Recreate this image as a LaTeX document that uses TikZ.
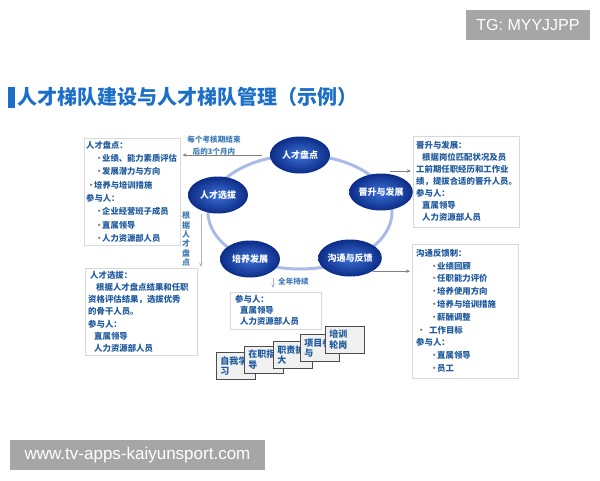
\documentclass[tikz,border=0pt]{standalone}
\usepackage{fontspec}
\newfontfamily\cjk{Noto Sans CJK SC}
\newfontfamily\wmfont{Liberation Sans}
\usetikzlibrary{shapes.geometric,arrows.meta}
\definecolor{titleblue}{HTML}{1C6FC8}
\definecolor{txtblue}{HTML}{1F5A9E}
\definecolor{lblblue}{HTML}{3C7AB5}
\definecolor{ringblue}{HTML}{A9BBE6}
\definecolor{lavline}{HTML}{A9B3DA}
\definecolor{nodein}{HTML}{3D72D6}
\definecolor{nodeout}{HTML}{0C2C88}
\definecolor{wmgray}{HTML}{A6A6A6}
\newcommand{\bul}{\makebox[7pt][l]{\textcolor{gray}{•}}}

\begin{document}
\begin{tikzpicture}[x=1pt,y=-1pt,
cycnode/.style = {ellipse, minimum width=60pt, minimum height=37pt, inner sep=0pt,
        shading=radial, inner color=nodein, outer color=nodeout,
        text=white, font=\cjk\bfseries\fontsize{9}{10}\selectfont},
infoframe/.style = {draw=gray!30, fill=white, line width=0.6pt, anchor=north west, inner sep=0pt},
infotext/.style = {anchor=north west, align=left, inner sep=0pt, text=txtblue},
lbl/.style = {inner sep=0pt, align=center, text=lblblue},
card/.style = {draw=gray!60!black, fill=gray!12, line width=0.6pt, anchor=north west,
        minimum width=39pt, minimum height=27pt, text width=31pt, inner xsep=4pt, inner ysep=0pt,
        align=left, text=txtblue, font=\cjk\bfseries\fontsize{9}{10.5}\selectfont},
grayarrow/.style = {draw=gray, line width=0.8pt, -{Stealth[length=4pt,width=3.5pt]}},
lavarrow/.style = {draw=lavline, line width=1pt, -{Stealth[length=4pt,width=3.5pt]}},
wmark/.style = {fill=wmgray, text=white, inner sep=0pt, font=\wmfont\fontsize{16}{18}\selectfont}]

        \useasboundingbox (0,0) rectangle (600,480);

        \node[wmark, minimum width=124pt, minimum height=30pt] (tg) at (528,25) {TG: MYYJJPP};
        \node[wmark, minimum width=255pt, minimum height=30pt,
              font=\wmfont\fontsize{17}{19}\selectfont] (site) at (137.5,455) {www.tv-apps-kaiyunsport.com};

        % title
        \fill[titleblue] (8,87) rectangle (15,108);
        \node[anchor=west, inner sep=0pt, text=titleblue,
              font=\cjk\bfseries\fontsize{20}{22}\selectfont] (title) at (17,97)
              {人才梯队建设与人才梯队管理（示例）};

        % boxes
        \node[infoframe, minimum width=96pt, minimum height=107pt] (pdbox) at (84,138) {};
        \node[infoframe, minimum width=112pt, minimum height=87pt] (xbbox) at (85,268) {};
        \node[infoframe, minimum width=106pt, minimum height=91pt] (jsbox) at (413,136) {};
        \node[infoframe, minimum width=106pt, minimum height=134pt] (fkbox) at (412,244) {};
        \node[infoframe, minimum width=91pt, minimum height=37pt] (pybox) at (230,292) {};

        \node[infotext, font=\cjk\bfseries\fontsize{8.3}{13.3}\selectfont] (pdtext) at (86,141)
              {人才盘点：\\
               \hspace*{9pt}\bul 业绩、能力素质评估\\
               \hspace*{9pt}\bul 发展潜力与方向\\
               \hspace*{1pt}\bul 培养与培训措施\\
               参与人：\\
               \hspace*{9pt}\bul 企业经营班子成员\\
               \hspace*{9pt}\bul 直属领导\\
               \hspace*{9pt}\bul 人力资源部人员};
        \node[infotext, font=\cjk\bfseries\fontsize{8.4}{12.2}\selectfont] (xbtext) at (88,271)
              {\hspace*{2pt}人才选拔：\\
               \hspace*{8pt}根据人才盘点结果和任职\\
               资格评估结果，选拔优秀\\
               的骨干人员。\\
               参与人：\\
               \hspace*{6pt}直属领导\\
               \hspace*{6pt}人力资源部人员};
        \node[infotext, font=\cjk\bfseries\fontsize{8.4}{12}\selectfont] (jstext) at (416,141)
              {晋升与发展：\\
               \hspace*{6pt}根据岗位匹配状况及员\\
               工前期任职经历和工作业\\
               绩，提拔合适的晋升人员。\\
               参与人：\\
               \hspace*{6pt}直属领导\\
               \hspace*{6pt}人力资源部人员};
        \node[infotext, font=\cjk\bfseries\fontsize{8.4}{12.8}\selectfont] (fktext) at (416,249)
              {沟通反馈制：\\
               \hspace*{14pt}\bul 业绩回顾\\
               \hspace*{14pt}\bul 任职能力评价\\
               \hspace*{14pt}\bul 培养使用方向\\
               \hspace*{14pt}\bul 培养与培训措施\\
               \hspace*{14pt}\bul 薪酬调整\\
               \hspace*{1pt}\makebox[12pt][l]{\textcolor{gray}{•}}工作目标\\
               参与人：\\
               \hspace*{14pt}\bul 直属领导\\
               \hspace*{14pt}\bul 员工};
        \node[infotext, font=\cjk\bfseries\fontsize{8.4}{11}\selectfont] (pytext) at (235,295)
              {参与人：\\
               \hspace*{5pt}直属领导\\
               \hspace*{5pt}人力资源部人员};

        % cycle
        \draw[ringblue, line width=3pt] (300,212) ellipse [x radius=92, y radius=57];
        \node[cycnode] (pd) at (300,155) {人才盘点};
        \node[cycnode] (xb) at (218,195) {人才选拔};
        \node[cycnode] (js) at (381,192) {晋升与发展};
        \node[cycnode] (py) at (250,259) {培养发展};
        \node[cycnode] (gt) at (350,258) {沟通与反馈};

        \draw[grayarrow, shorten <=8pt, shorten >=2pt] (pd.west) -- (pd.west -| pdbox.east);
        \node[lbl, font=\cjk\bfseries\fontsize{7.6}{12}\selectfont] (pdtime) at (214,146)
              {每个考核期结束\\后的3个月内};
        \coordinate (jsout) at (390,171);
        \draw[grayarrow, shorten >=2pt] (jsout) -- (jsout -| jsbox.west);
        \draw[grayarrow, shorten >=2pt] (gt.south east) -- (gt.south east -| fkbox.west);

        \draw[lavarrow, shorten >=1pt] ([xshift=-17pt]xb.south) -- ([xshift=-17pt]xb.south |- xbbox.north);
        \node[lbl, font=\cjk\bfseries\fontsize{8}{9.3}\selectfont] (xbbasis) at (186,239)
              {根\\据\\人\\才\\盘\\点};
        \draw[lavarrow, shorten >=4pt] ([xshift=23pt]py.south) -- ([xshift=23pt]py.south |- pybox.north);
        \node[lbl, anchor=west, font=\cjk\bfseries\fontsize{7.6}{9}\selectfont] (pytime) at (278,282) {全年持续};

        % cards
        \node[card] (zwxx) at (216,352) {自我学\\习};
        \node[card] (zzzd) at (244,346) {在职指\\导};
        \node[card] (zzkd) at (273,341) {职责扩\\大};
        \node[card] (xmcy) at (300,334) {项目参\\与};
        \node[card] (pxlg) at (325,326) {培训\\轮岗};

    \end{tikzpicture}
\end{document}
